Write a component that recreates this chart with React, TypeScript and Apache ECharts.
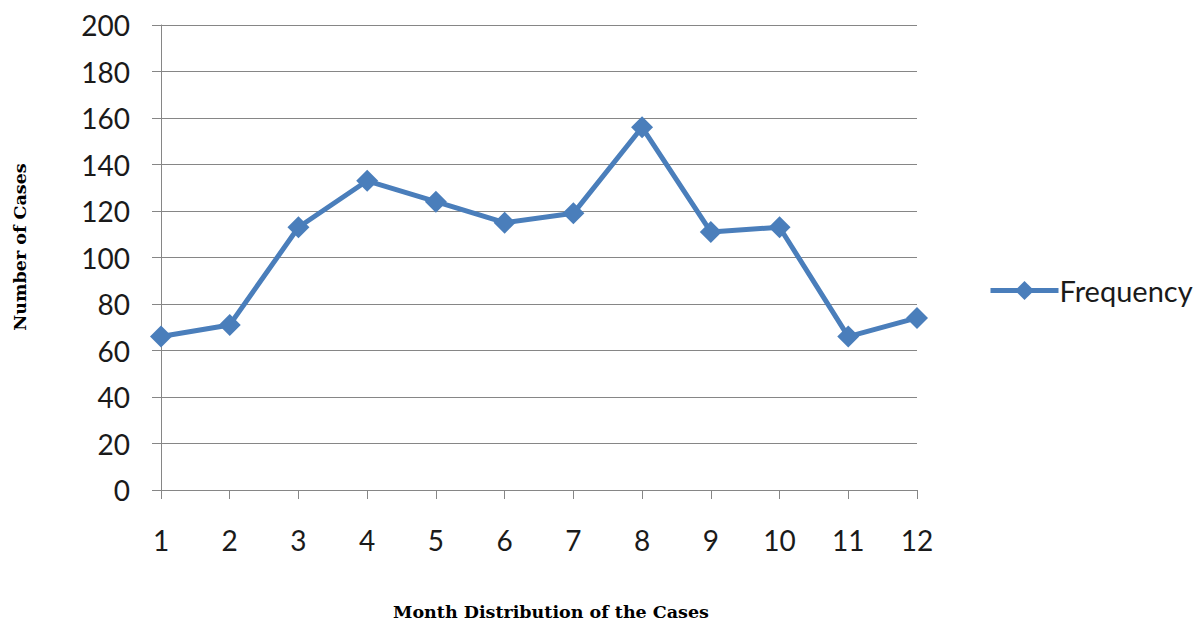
import React, { useEffect, useRef } from "react";
import * as echarts from "echarts";

const months = ["1", "2", "3", "4", "5", "6", "7", "8", "9", "10", "11", "12"];
const frequency = [66, 71, 113, 133, 124, 115, 119, 156, 111, 113, 66, 74];
const seriesName = "Frequency";
const xTitle = "Month Distribution of the Cases";
const yTitle = "Number of Cases";

export default function App() {
  const ref = useRef<HTMLDivElement>(null);
  useEffect(() => {
    document.body.style.margin = "0";
    const chart = echarts.init(ref.current!, null, { renderer: "svg" });
    const axisColor = "#868686";
    const labelFont = { fontFamily: "Lato", fontSize: 28, color: "#1a1a1a" };
    chart.setOption({
      animation: false,
      backgroundColor: "#ffffff",
      grid: { left: 161, right: 278, top: 25, bottom: 132, containLabel: false },
      legend: {
        data: [seriesName],
        left: 983,
        top: 271,
        itemWidth: 68,
        itemHeight: 24,
        itemGap: 5,
        lineStyle: { width: 5 },
        textStyle: { fontFamily: "Lato", fontSize: 29, color: "#1a1a1a", padding: [0, 0, 0, -4] },
      },
      xAxis: {
        type: "category",
        data: months,
        boundaryGap: false,
        axisLine: { lineStyle: { color: axisColor, width: 1 } },
        axisTick: { show: true, length: 9, lineStyle: { color: axisColor }, alignWithLabel: true },
        axisLabel: { ...labelFont, margin: 36, verticalAlign: "top" },
        splitLine: { show: false },
      },
      yAxis: {
        type: "value",
        min: 0,
        max: 200,
        interval: 20,
        axisLine: { show: true, lineStyle: { color: axisColor, width: 1 } },
        axisTick: { show: true, length: 9, lineStyle: { color: axisColor } },
        axisLabel: { ...labelFont, margin: 31 },
        splitLine: { show: true, lineStyle: { color: axisColor, width: 1 } },
      },
      series: [
        {
          name: seriesName,
          type: "line",
          data: frequency,
          symbol: "diamond",
          symbolSize: 22,
          lineStyle: { color: "#4A7EBB", width: 5 },
          itemStyle: { color: "#4A7EBB" },
        },
      ],
      graphic: [
        {
          type: "text",
          x: 551,
          y: 612,
          style: {
            text: xTitle,
            align: "center",
            verticalAlign: "middle",
            font: "bold 17.5px 'DejaVu Serif'",
            fill: "#000",
          },
        },
        {
          type: "text",
          x: 20,
          y: 247,
          rotation: Math.PI / 2,
          style: {
            text: yTitle,
            align: "center",
            verticalAlign: "middle",
            font: "bold 17.5px 'DejaVu Serif'",
            fill: "#000",
          },
        },
      ],
    });
    return () => chart.dispose();
  }, []);
  return <div ref={ref} style={{ width: 1195, height: 622 }} />;
}
